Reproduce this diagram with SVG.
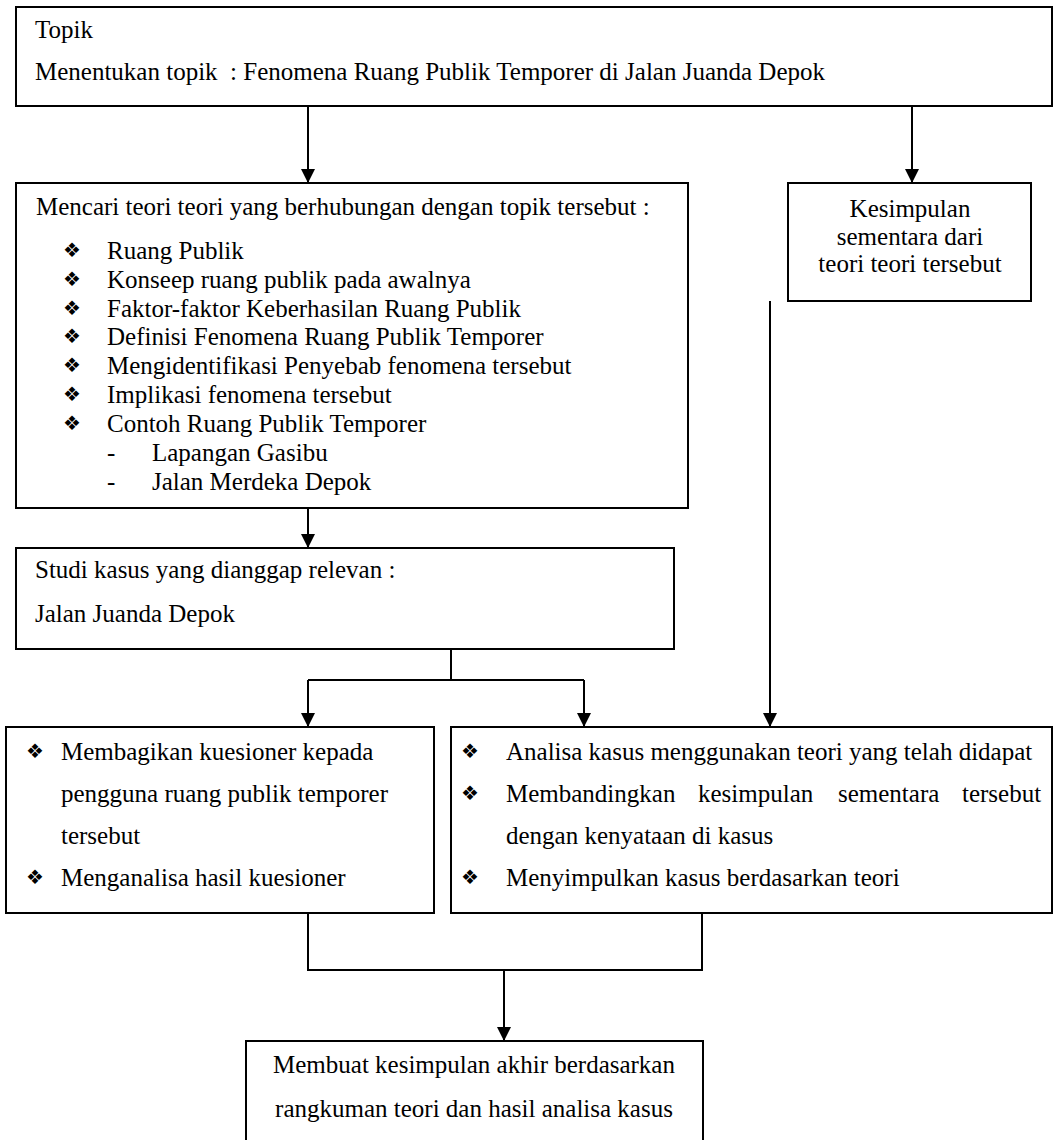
<svg xmlns="http://www.w3.org/2000/svg" width="1053" height="1140" viewBox="0 0 1053 1140">
<defs>
<style>
.box{fill:none;stroke:#000;stroke-width:2}
.ln{fill:none;stroke:#000;stroke-width:2}
text{font-family:"Liberation Serif","Times New Roman",serif;font-size:25px;fill:#000}
.b{font-family:"DejaVu Sans","Noto Sans",sans-serif;font-size:20px;fill:#000}
.c{text-anchor:middle}
</style>
<marker id="ah" markerWidth="14" markerHeight="14" viewBox="0 0 14 14" refX="14" refY="7" orient="auto" markerUnits="userSpaceOnUse">
<path d="M0,0 L14,7 L0,14 Z" fill="#000"/>
</marker>
</defs>
<rect width="1053" height="1140" fill="#fff"/>

<g id="topik">
<rect class="box" x="16" y="7" width="1036" height="99"/>
<text x="35" y="38">Topik</text>
<text x="35" y="80" xml:space="preserve">Menentukan topik  : Fenomena Ruang Publik Temporer di Jalan Juanda Depok</text>
</g>

<g id="teori">
<rect class="box" x="16" y="183" width="672" height="325"/>
<text x="36" y="215">Mencari teori teori yang berhubungan dengan topik tersebut :</text>
<text class="b" x="63" y="257">❖</text><text x="107" y="259">Ruang Publik</text>
<text class="b" x="63" y="286">❖</text><text x="107" y="288">Konseep ruang publik pada awalnya</text>
<text class="b" x="63" y="315">❖</text><text x="107" y="317">Faktor-faktor Keberhasilan Ruang Publik</text>
<text class="b" x="63" y="343">❖</text><text x="107" y="345">Definisi Fenomena Ruang Publik Temporer</text>
<text class="b" x="63" y="372">❖</text><text x="107" y="374">Mengidentifikasi Penyebab fenomena tersebut</text>
<text class="b" x="63" y="401">❖</text><text x="107" y="403">Implikasi fenomena tersebut</text>
<text class="b" x="63" y="430">❖</text><text x="107" y="432">Contoh Ruang Publik Temporer</text>
<text x="107" y="461">-</text><text x="152" y="461">Lapangan Gasibu</text>
<text x="107" y="490">-</text><text x="152" y="490">Jalan Merdeka Depok</text>
</g>

<g id="kesimpulan-sementara">
<rect class="box" x="788" y="183" width="243" height="118"/>
<text class="c" x="910" y="217">Kesimpulan</text>
<text class="c" x="910" y="245">sementara dari</text>
<text class="c" x="910" y="272">teori teori tersebut</text>
</g>

<g id="studi-kasus">
<rect class="box" x="16" y="548" width="658" height="101"/>
<text x="35" y="578">Studi kasus yang dianggap relevan :</text>
<text x="35" y="622">Jalan Juanda Depok</text>
</g>

<g id="kuesioner">
<rect class="box" x="6" y="727" width="428" height="186"/>
<text class="b" x="26" y="758">❖</text><text x="61" y="760">Membagikan kuesioner kepada</text>
<text x="61" y="802">pengguna ruang publik temporer</text>
<text x="61" y="844">tersebut</text>
<text class="b" x="26" y="884">❖</text><text x="61" y="886">Menganalisa hasil kuesioner</text>
</g>

<g id="analisa">
<rect class="box" x="451" y="727" width="601" height="186"/>
<text class="b" x="461" y="758">❖</text><text x="506" y="760">Analisa kasus menggunakan teori yang telah didapat</text>
<text class="b" x="461" y="800">❖</text><text y="802"><tspan x="506">Membandingkan</tspan><tspan x="698">kesimpulan</tspan><tspan x="838">sementara</tspan><tspan x="962">tersebut</tspan></text>
<text x="506" y="844">dengan kenyataan di kasus</text>
<text class="b" x="461" y="884">❖</text><text x="506" y="886">Menyimpulkan kasus berdasarkan teori</text>
</g>

<g id="kesimpulan-akhir">
<rect class="box" x="246" y="1041" width="457" height="110"/>
<text class="c" x="474" y="1073">Membuat kesimpulan akhir berdasarkan</text>
<text class="c" x="474" y="1117">rangkuman teori dan hasil analisa kasus</text>
</g>

<g id="connectors">
<path class="ln" d="M308,106 V183" marker-end="url(#ah)"/>
<path class="ln" d="M912,106 V183" marker-end="url(#ah)"/>
<path class="ln" d="M308,508 V548" marker-end="url(#ah)"/>
<path class="ln" d="M451,649 V680"/>
<path class="ln" d="M308,680 H584"/>
<path class="ln" d="M308,680 V727" marker-end="url(#ah)"/>
<path class="ln" d="M584,680 V727" marker-end="url(#ah)"/>
<path class="ln" d="M770,301 V727" marker-end="url(#ah)"/>
<path class="ln" d="M308,913 V970 H702 V913"/>
<path class="ln" d="M504,970 V1041" marker-end="url(#ah)"/>
</g>
</svg>
